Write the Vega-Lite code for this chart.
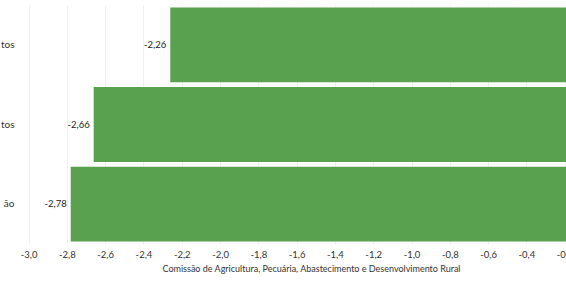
{
  "$schema": "https://vega.github.io/schema/vega-lite/v6.json",
  "width": 584,
  "height": 239,
  "padding": {"left": 0, "top": 5, "right": 0, "bottom": 0},
  "background": "white",
  "config": {
    "font": "Lato",
    "view": {"stroke": null},
    "axis": {"domain": false, "ticks": false, "labelColor": "#333333", "titleColor": "#333333", "titleFontWeight": "normal"}
  },
  "data": {
    "values": [
      {"categoria": "tos", "ordem": 1, "valor": -2.26, "rotulo": "-2,26"},
      {"categoria": "tos ", "ordem": 2, "valor": -2.66, "rotulo": "-2,66"},
      {"categoria": "ão", "ordem": 3, "valor": -2.78, "rotulo": "-2,78"}
    ]
  },
  "encoding": {
    "y": {
      "field": "categoria",
      "type": "nominal",
      "sort": {"field": "ordem"},
      "scale": {"paddingInner": 0.06, "paddingOuter": 0.03},
      "axis": {"title": null, "grid": false, "labelFontSize": 10, "labelPadding": 5, "minExtent": 17, "maxExtent": 17}
    },
    "x": {
      "field": "valor",
      "type": "quantitative",
      "scale": {"domain": [-3.05, 0], "nice": false, "zero": false},
      "axis": {
        "title": "Comissão de Agricultura, Pecuária, Abastecimento e Desenvolvimento Rural",
        "titleFontSize": 9,
        "titlePadding": 6,
        "labelFontSize": 9.5,
        "labelPadding": 5,
        "labelOverlap": false,
        "labelFlush": false,
        "values": [-3, -2.8, -2.6, -2.4, -2.2, -2, -1.8, -1.6, -1.4, -1.2, -1, -0.8, -0.6, -0.4, -0.2, 0],
        "labelExpr": "replace(replace(format(datum.value, '.1f'), '.', ','), '\u2212', '-')",
        "grid": true,
        "gridColor": "#f0f0f0",
        "gridWidth": 1
      }
    }
  },
  "layer": [
    {
      "mark": {"type": "bar", "color": "#59A14F", "clip": true}
    },
    {
      "mark": {"type": "text", "align": "right", "dx": -4, "fontSize": 9.5, "color": "#222222"},
      "encoding": {
        "text": {"field": "rotulo"}
      }
    }
  ]
}
